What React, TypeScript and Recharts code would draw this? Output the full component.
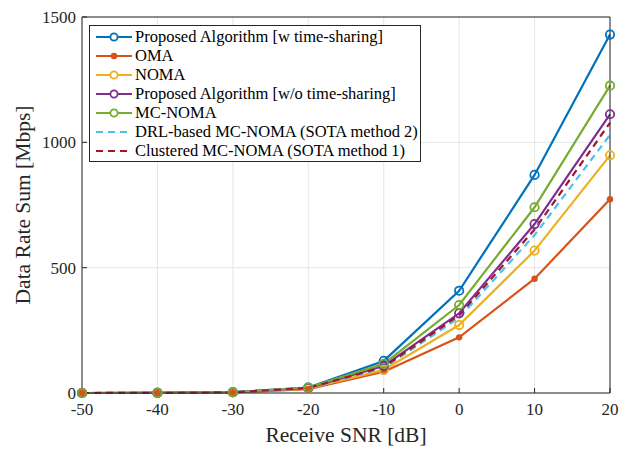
import React from 'react';
import { LineChart, Line, XAxis, YAxis, CartesianGrid } from 'recharts';

const snr = [-50, -40, -30, -20, -10, 0, 10, 20];
const proposedTs = [0, 0.5, 3, 22, 128, 408, 870, 1430];
const oma = [0, 0.3, 2, 15, 85, 222, 456, 773];
const noma = [0, 0.4, 2.5, 18, 92, 271, 568, 948];
const proposedNoTs = [0, 0.5, 3, 20, 108, 318, 674, 1112];
const mcNoma = [0, 0.5, 3, 22, 116, 351, 741, 1226];
const drl = [0, 0.4, 2.7, 19, 100, 300, 630, 1030];
const clustered = [0, 0.4, 2.8, 20, 104, 310, 652, 1078];

const yTicks = [0, 500, 1000, 1500];
const xTicks = [-50, -40, -30, -20, -10, 0, 10, 20];

const data = snr.map((s, i) => ({
  snr: s,
  proposedTs: proposedTs[i],
  oma: oma[i],
  noma: noma[i],
  proposedNoTs: proposedNoTs[i],
  mcNoma: mcNoma[i],
  drl: drl[i],
  clustered: clustered[i],
}));

const series = [
  { key: 'proposedTs', name: 'Proposed Algorithm [w time-sharing]', color: '#0072BD', marker: 'open' },
  { key: 'oma', name: 'OMA', color: '#D95319', marker: 'dot' },
  { key: 'noma', name: 'NOMA', color: '#EDB120', marker: 'open' },
  { key: 'proposedNoTs', name: 'Proposed Algorithm [w/o time-sharing]', color: '#7E2F8E', marker: 'open' },
  { key: 'mcNoma', name: 'MC-NOMA', color: '#77AC30', marker: 'open' },
  { key: 'drl', name: 'DRL-based MC-NOMA (SOTA method 2)', color: '#4DBEEE', marker: 'none' },
  { key: 'clustered', name: 'Clustered MC-NOMA (SOTA method 1)', color: '#A2142F', marker: 'none' },
];

const FONT = '"Liberation Serif", "DejaVu Serif", serif';
const AXIS = '#262626';

// legend drawn as a plain overlay box (top-left of the plot)
const LegendBox = () => (
  <div
    style={{
      position: 'absolute',
      left: 89,
      top: 25,
      width: 332,
      height: 137,
      border: '1px solid #262626',
      background: '#fff',
      boxSizing: 'border-box',
      paddingTop: 1,
      fontFamily: FONT,
      fontSize: 16.5,
      color: '#000',
    }}
  >
    {series.map((s) => (
      <div key={s.key} style={{ display: 'flex', alignItems: 'center', height: 19 }}>
        <svg width={42} height={14} style={{ marginLeft: 2, flexShrink: 0 }}>
          <line
            x1={4}
            y1={7}
            x2={40}
            y2={7}
            stroke={s.color}
            strokeWidth={2.2}
            strokeDasharray={s.marker === 'none' ? '7 5' : undefined}
          />
          {s.marker === 'open' && <circle cx={22} cy={7} r={3.6} fill="#fff" stroke={s.color} strokeWidth={1.8} />}
          {s.marker === 'dot' && <circle cx={22} cy={7} r={3.2} fill={s.color} />}
        </svg>
        <span style={{ marginLeft: 1, whiteSpace: 'nowrap', lineHeight: '19px' }}>{s.name}</span>
      </div>
    ))}
  </div>
);

export default function App() {
  return (
    <div style={{ position: 'absolute', left: 0, top: 0, width: 627, height: 449, background: '#fff' }}>
      <LineChart width={627} height={449} data={data} margin={{ top: 16, right: 16, left: 0, bottom: 0 }}>
        <CartesianGrid stroke="#e6e6e6" strokeWidth={1} />
        <XAxis
          dataKey="snr"
          type="number"
          domain={[-50, 20]}
          ticks={xTicks}
          height={56}
          stroke={AXIS}
          tickSize={-5}
          tickMargin={15}
          tick={{ fill: AXIS, fontSize: 17, fontFamily: FONT }}
          label={{ value: 'Receive SNR [dB]', position: 'insideBottom', offset: 7, fill: AXIS, fontSize: 21.5, fontFamily: FONT }}
        />
        <XAxis xAxisId="top" dataKey="snr" type="number" domain={[-50, 20]} ticks={xTicks} orientation="top" height={1} tick={false} tickSize={-5} stroke={AXIS} />
        <YAxis
          type="number"
          domain={[0, 1500]}
          ticks={yTicks}
          width={82}
          stroke={AXIS}
          tickSize={-5}
          tickMargin={11}
          tick={{ fill: AXIS, fontSize: 17, fontFamily: FONT }}
          label={{ value: 'Data Rate Sum [Mbps]', angle: -90, position: 'insideLeft', offset: 22, style: { textAnchor: 'middle' }, fill: AXIS, fontSize: 21.5, fontFamily: FONT }}
        />
        <YAxis yAxisId="right" type="number" domain={[0, 1500]} ticks={yTicks} orientation="right" width={1} tick={false} tickSize={-5} stroke={AXIS} />
        {series.map((s) => (
          <Line
            key={s.key}
            dataKey={s.key}
            name={s.name}
            type="linear"
            stroke={s.color}
            strokeWidth={2.2}
            strokeDasharray={s.marker === 'none' ? '7 5' : undefined}
            dot={
              s.marker === 'open'
                ? { r: 4.2, fill: 'none', stroke: s.color, strokeWidth: 1.8 }
                : s.marker === 'dot'
                ? { r: 3.2, fill: s.color, stroke: s.color, strokeWidth: 0 }
                : false
            }
            activeDot={false}
            isAnimationActive={false}
          />
        ))}
      </LineChart>
      <LegendBox />
    </div>
  );
}
